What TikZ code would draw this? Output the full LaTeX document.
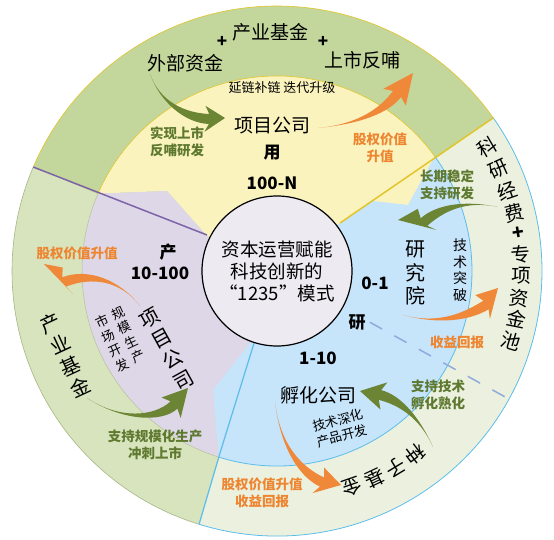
\documentclass[tikz,border=0pt]{standalone}
\usepackage{fontspec}
\setmainfont{Noto Sans CJK SC}
\usetikzlibrary{calc}
\definecolor{ringtop}{HTML}{C3D69B}
\definecolor{ringleft}{HTML}{D7E4BD}
\definecolor{ringright}{HTML}{EBF1DE}
\definecolor{yel}{HTML}{FAF3BE}
\definecolor{purp}{HTML}{DDD7E7}
\definecolor{blu}{HTML}{C6E4FA}
\definecolor{cen}{HTML}{EDEAF2}
\definecolor{gtext}{HTML}{5F7A30}
\definecolor{garrow}{HTML}{6B8535}
\definecolor{otext}{HTML}{EE8530}
\definecolor{oarrow}{HTML}{F0883A}
\definecolor{pline}{HTML}{7E64A6}
\definecolor{yline}{HTML}{E2C52B}
\definecolor{bline}{HTML}{5BBDEB}
\definecolor{dline}{HTML}{8FAADC}
\newcommand\swoosh[8]{%
\fill[#1] (#2) .. controls (#3) and ($(#4)!#7!90:(#5)$) .. ($(#5)!#7!-90:(#4)$)
 -- ($($(#5)!4pt!(#4)$)!#8!-90:(#4)$) -- (#6) -- ($($(#5)!4pt!(#4)$)!#8!90:(#4)$) -- ($(#5)!#7!90:(#4)$)
 .. controls ($(#4)!#7!-90:(#5)$) and (#3) .. (#2) -- cycle;}
\tikzset{
 big/.style={font=\fontsize{19}{23}\selectfont, inner sep=0pt},
 small/.style={font=\fontsize{13}{16}\selectfont, inner sep=0pt, align=center},
 gt/.style={font=\fontsize{13.5}{17.5}\selectfont\bfseries, text=gtext, inner sep=0pt, align=center},
 ot/.style={font=\fontsize{13.5}{17.5}\selectfont\bfseries, text=otext, inner sep=0pt, align=center},
 num/.style={font=\fontsize{17}{20}\selectfont\bfseries, inner sep=0pt},
 vert/.style={font=\fontsize{20}{23.7}\selectfont, inner sep=0pt, align=center},
 arcch/.style={font=\fontsize{19.5}{24}\selectfont, inner sep=0pt},
}
\begin{document}
\begin{tikzpicture}[x=1pt,y=1pt]
\useasboundingbox (0,0) rectangle (554,-540);
\coordinate (C) at (277,-271);
% outer ring segments
\fill[ringtop] (C) -- ($(C)+(35.3:265)$) arc[start angle=35.3, end angle=156.9, radius=265] -- cycle;
\fill[ringleft] (C) -- ($(C)+(156.9:265)$) arc[start angle=156.9, end angle=252.9, radius=265] -- cycle;
\fill[ringright] (C) -- ($(C)+(252.9:265)$) arc[start angle=252.9, end angle=395.3, radius=265] -- cycle;
\draw[yline, line width=0.6pt] ($(C)+(35.3:265)$) arc[start angle=35.3, end angle=156.9, radius=265];
\draw[garrow!60, line width=0.6pt] ($(C)+(156.9:265)$) arc[start angle=156.9, end angle=252.9, radius=265];
\draw[bline, line width=0.8pt] ($(C)+(252.9:265)$) arc[start angle=252.9, end angle=395.3, radius=265];
% inner regions
\fill[yel] (C) -- (340,-223) -- (372,-201) -- (408,-205) -- ($(C)+(36:195)$) arc[start angle=36, end angle=156.6, radius=195] -- (167,-191) -- (207,-236) -- cycle;
\draw[yline, line width=0.6pt] ($(C)+(36:195)$) arc[start angle=36, end angle=156.6, radius=195];
\fill[purp] (C) -- (207,-236) -- (167,-191) -- ($(C)+(156.6:195)$) arc[start angle=156.6, end angle=252.6, radius=195] -- (213,-390) -- (250,-343) -- cycle;
\draw[garrow!50, line width=0.5pt] ($(C)+(156.6:195)$) arc[start angle=156.6, end angle=252.6, radius=195];
\fill[blu] (C) -- (250,-343) -- (213,-390) -- ($(C)+(252.6:195)$) arc[start angle=252.6, end angle=396, radius=195] -- (408,-205) -- (372,-201) -- (340,-223) -- cycle;
\draw[bline, line width=0.8pt] ($(C)+(252.6:195)$) arc[start angle=252.6, end angle=396, radius=195];
% separator lines
\draw[pline, line width=1.5pt] ($(C)+(156.9:265)$) -- (207,-235);
\draw[yline, line width=1.5pt] ($(C)+(35.3:265)$) -- (340,-223);
\draw[bline, line width=1.2pt] ($(C)+(252.9:265)$) -- (220,-453) -- (255,-340);
\draw[dline, line width=1.5pt, dash pattern=on 14pt off 14pt] ($(C)+(-28.9:106)$) -- ($(C)+(-28.9:265)$);
% center circle
\node[circle, minimum size=150pt, fill=cen, draw=black, line width=1.2pt, inner sep=0pt,
  font=\fontsize{18.5}{22}\selectfont, align=center] (core) at (C) {资本运营赋能\\科技创新的\\“1235”模式};
% arrows
\swoosh{garrow}{150,-74}{160,-102}{185,-118}{209,-119}{225,-118}{5pt}{13pt}
\swoosh{oarrow}{318,-128}{360,-124}{385,-110}{397,-94}{413,-73}{5pt}{14pt}
\swoosh{oarrow}{140,-306}{120,-280}{90,-272}{64,-282}{44,-264}{5pt}{14pt}
\swoosh{garrow}{87,-398}{120,-420}{158,-420}{174,-405}{188,-388}{5pt}{14pt}
\swoosh{garrow}{498,-207}{465,-200}{440,-208}{424,-222}{398,-220}{5pt}{14pt}
\swoosh{oarrow}{403,-315}{440,-325}{468,-316}{486,-305}{498,-288}{5pt}{14pt}
\swoosh{garrow}{433,-447}{420,-418}{400,-400}{380,-395}{360,-391}{5pt}{14pt}
\swoosh{oarrow}{275,-402}{280,-445}{300,-472}{322,-482}{341,-485}{5pt}{14pt}
% top ring texts
\node[big] (cyjjt) at (270,-32) {产业基金};
\node[num] (plus1) at (222,-42) {+};
\node[num] (plus2) at (323,-42) {+};
\node[big] (wbzj) at (185,-63) {外部资金};
\node[big] (ssfb) at (362,-60) {上市反哺};
% yellow sector
\node[small] (yl) at (282,-88) {延链补链 迭代升级};
\node[big] (xmgs1) at (272,-125) {项目公司};
\node[gt] (sxss) at (177,-142) {实现上市\\反哺研发};
\node[num] (yong) at (272,-153) {用};
\node[num] (n100) at (272,-183) {100-N};
\node[ot] (gqjz1) at (380,-148) {股权价值\\升值};
% left
\node[ot] (gqjz2) at (77,-253) {股权价值升值};
\node[num] (chan) at (168,-252) {产};
\node[num] (n10) at (160,-273) {10-100};
\node[vert, rotate=24.8] (cyjjl) at (65,-355) {产\\业\\基\\金};
\node[vert, rotate=29] (xmgs2) at (167,-349) {项\\目\\公\\司};
\node[font=\fontsize{13}{16}\selectfont, inner sep=0pt, align=center, rotate=25] (gmsc) at (128,-335) {规\\模\\生\\产};
\node[font=\fontsize{13}{16}\selectfont, inner sep=0pt, align=center, rotate=25] (sckf) at (112,-343) {市\\场\\开\\发};
\node[gt] (zcgm) at (155,-445) {支持规模化生产\\冲刺上市};
% right
\node[num] (n01) at (375,-283) {0-1};
\node[num] (yan) at (357,-322) {研};
\node[vert] (yjy) at (415,-273) {研\\究\\院};
\node[font=\fontsize{14}{16.5}\selectfont, inner sep=0pt, align=center] (jstp) at (460,-270) {技\\术\\突\\破};
\node[gt] (cqwd) at (447,-185) {长期稳定\\支持研发};
\node[ot] (sybb1) at (457,-342) {收益回报};
\foreach \a/\ch [count=\i] in {30.4/科, 24.6/研, 19.2/经, 13.8/费, 8.8/\textbf{+}, 4.0/专, -1.2/项, -6.4/资, -11.4/金, -16.6/池}
  \node[arcch, rotate=\a] (ky\i) at ($(C)+(\a:244)$) {\ch};
% bottom
\node[num] (n110) at (318,-358) {1-10};
\node[big] (fhgs) at (318,-395) {孵化公司};
\node[small, rotate=15] (jssh) at (340,-428) {技术深化\\产品开发};
\node[gt] (zcjs) at (438,-395) {支持技术\\孵化熟化};
\node[ot] (gqjz3) at (262,-493) {股权价值升值\\收益回报};
\foreach \a/\ch [count=\i] in {-53.0/种, -58.8/子, -64.8/基, -70.8/金}
  \node[arcch, rotate=\a-90] (zz\i) at ($(C)+(\a:229)$) {\ch};
\end{tikzpicture}
\end{document}
